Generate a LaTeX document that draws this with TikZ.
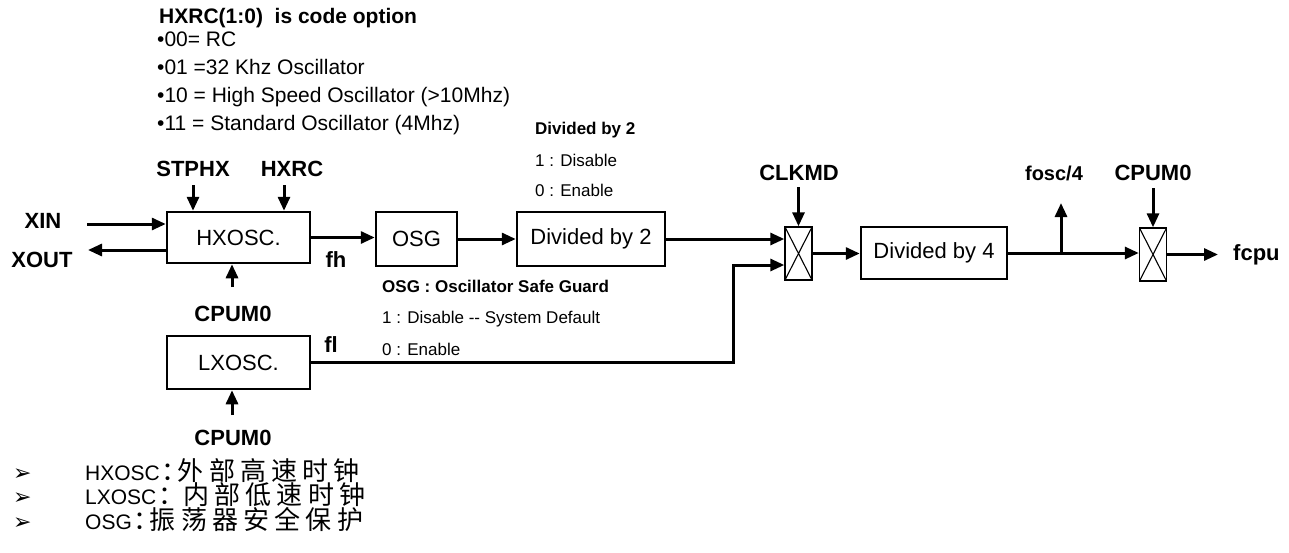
\documentclass[tikz,border=0pt]{standalone}
\usepackage{fontspec}
\setmainfont{Liberation Sans}
\newfontfamily\cjk{Noto Sans CJK SC}
\newfontfamily\cjkwide{Noto Sans CJK SC}[LetterSpace=20]
\newfontfamily\dejavu{DejaVu Sans}
\usetikzlibrary{arrows.meta,positioning}

\newcommand{\zh}[1]{{\cjkwide\fontsize{26}{30}\selectfont #1}}
\newcommand{\zhcolon}{\hbox to 18pt{\hspace{2pt}\cjk\fontsize{26}{30}\selectfont ：\hss}}

\tikzset{
    blk/.style={draw, line width=2.5pt, inner sep=0pt, font=\fontsize{22}{26}\selectfont},
    muxbox/.style={draw, line width=1.4pt, minimum width=27pt, minimum height=53pt, inner sep=0pt,
        path picture={\draw[line width=1.1pt] (path picture bounding box.north west) -- (path picture bounding box.south east)
            (path picture bounding box.south west) -- (path picture bounding box.north east);}},
    sig/.style={font=\bfseries\fontsize{22}{26}\selectfont, inner sep=0pt, anchor=base},
    note/.style={font=\fontsize{21}{25}\selectfont, inner sep=0pt, anchor=base west},
    smalltxt/.style={font=\fontsize{17}{20}\selectfont, inner sep=0pt, anchor=base west},
    zhline/.style={inner sep=0pt, anchor=base west, font=\fontsize{21}{25}\selectfont},
    arr/.style={-{Triangle[length=14pt,width=12pt]}, line width=3pt},
}

\begin{document}
\begin{tikzpicture}[x=1pt, y=-1pt]
    \useasboundingbox (0,0) rectangle (1289,552);

    % Code option note
    \node[note, font=\bfseries\fontsize{21}{25}\selectfont] (hxrcnote) at (159,23.5) {HXRC(1:0)\ \ is code option};
    \foreach \y/\t [count=\i] in {46.5/{•00= RC}, 74.5/{•01 =32 Khz Oscillator},
            102.5/{•10 = High Speed Oscillator (>10Mhz)}, 130.5/{•11 = Standard Oscillator (4Mhz)}}
        \node[note] (hxrcopt\i) at (157,\y) {\t};

    % Blocks
    \node[blk, minimum width=143pt, minimum height=51pt] (hxosc) at (238.5,237.5) {HXOSC.};
    \node[blk, minimum width=143pt, minimum height=53pt] (lxosc) at (238.5,362.5) {LXOSC.};
    \node[blk, minimum width=81pt, minimum height=54pt] (osg) at (416.5,239) {OSG};
    \node[blk, minimum width=148pt, minimum height=54pt] (div2) at (591,239) {Divided by 2};
    \node[muxbox] (clkmux) at (798.5,253.5) {};
    \node[blk, minimum width=146pt, minimum height=52pt] (div4) at (934,253) {Divided by 4};
    \node[muxbox] (cpumux) at (1153,254.5) {};

    % Signal labels
    \node[sig] (xin) at (43,228) {XIN};
    \node[sig] (xout) at (42,267) {XOUT};
    \node[sig] (stphx) at (193,176) {STPHX};
    \node[sig] (hxrc) at (292,176) {HXRC};
    \node[sig] (cpumh) at (233,321) {CPUM0};
    \node[sig] (cpuml) at (233,445) {CPUM0};
    \node[sig] (fh) at (336,267) {fh};
    \node[sig] (fl) at (331,352) {fl};
    \node[sig] (clkmd) at (799,180) {CLKMD};
    \node[sig, font=\bfseries\fontsize{20}{24}\selectfont] (fosc) at (1054,180) {fosc/4};
    \node[sig] (cpumc) at (1153,180) {CPUM0};
    \node[sig, anchor=base west] (fcpu) at (1233,260) {fcpu};

    % Mode notes
    \node[smalltxt, font=\bfseries\fontsize{17}{20}\selectfont] (div2title) at (535,134) {Divided by 2};
    \node[smalltxt] (div2one) at (535,166) {1 : Disable};
    \node[smalltxt] (div2zero) at (535,196) {0 : Enable};
    \node[smalltxt, font=\bfseries\fontsize{17}{20}\selectfont] (osgtitle) at (382,292) {OSG : Oscillator Safe Guard};
    \node[smalltxt] (osgone) at (382,323) {1 : Disable -{}- System Default};
    \node[smalltxt] (osgzero) at (382,355) {0 : Enable};

    % Arrow ends
    \coordinate (xinsrc) at (87,224);
    \coordinate (xoutdst) at (88,250);
    \coordinate (stphxsrc) at (193,185);
    \coordinate (hxrcsrc) at (284,185);
    \coordinate (cpumhsrc) at (232,287);
    \coordinate (cpumlsrc) at (232,415);
    \coordinate (flbend) at (733,265);
    \coordinate (clkmdsrc) at (798.5,187);
    \coordinate (foscdst) at (1061,203);
    \coordinate (cpumcsrc) at (1153,188);
    \coordinate (fcpudst) at (1218,254.5);

    % Connectors
    \draw[arr] (xinsrc) -- (xinsrc -| hxosc.west);
    \draw[arr] (xoutdst -| hxosc.west) -- (xoutdst);
    \draw[arr] (stphxsrc) -- (stphxsrc |- hxosc.north);
    \draw[arr] (hxrcsrc) -- (hxrcsrc |- hxosc.north);
    \draw[arr] (cpumhsrc) -- (cpumhsrc |- hxosc.south);
    \draw[arr] (cpumlsrc) -- (cpumlsrc |- lxosc.south);
    \draw[arr] (hxosc.east) -- (hxosc.east -| osg.west);
    \draw[arr] (osg) -- (div2);
    \draw[arr] (div2.east) -- (div2.east -| clkmux.west);
    \draw[arr] (lxosc.east) -| (flbend) -- (flbend -| clkmux.west);
    \draw[arr] (clkmdsrc) -- (clkmux.north);
    \draw[arr] (clkmux.east) -- (clkmux.east -| div4.west);
    \draw[arr] (div4.east) -- (div4.east -| cpumux.west);
    \draw[arr] (div4.east -| foscdst) -- (foscdst);
    \draw[arr] (cpumcsrc) -- (cpumux.north);
    \draw[arr] (cpumux.east) -- (fcpudst);

    % Legend
    \foreach \y [count=\i] in {480,504.5,529}
        \node[zhline, font=\dejavu\fontsize{22}{24}\selectfont] (mark\i) at (13,\y) {➢};
    \node[zhline] (hxlegend) at (85,480) {HXOSC\zhcolon\zh{外部高速时钟}};
    \node[zhline] (lxlegend) at (85,504.5) {LXOSC\zhcolon\hspace{9pt}\zh{内部低速时钟}};
    \node[zhline] (osglegend) at (85,529) {OSG\zhcolon\zh{振荡器安全保护}};
\end{tikzpicture}
\end{document}
